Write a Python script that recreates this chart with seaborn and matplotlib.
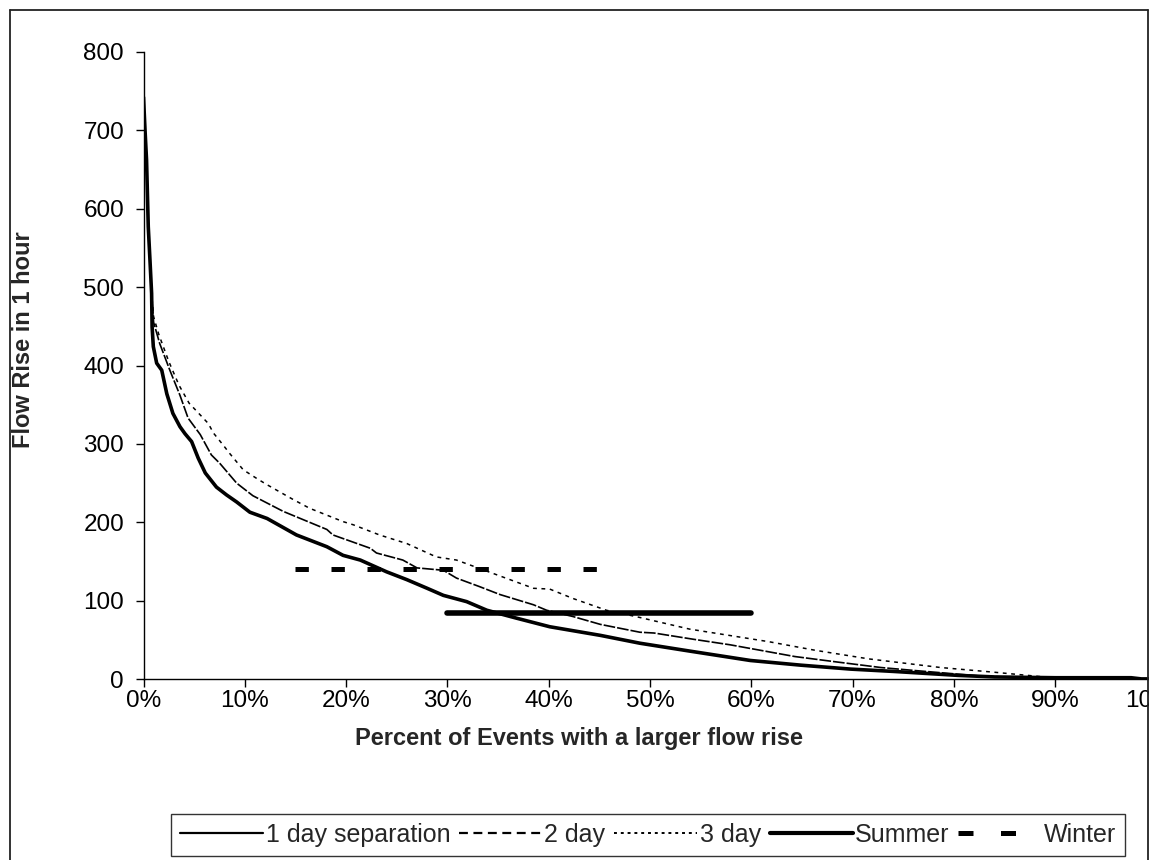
import numpy as np
import pandas as pd
import matplotlib
matplotlib.use("Agg")
import matplotlib.pyplot as plt
from matplotlib.lines import Line2D
from matplotlib.patches import Rectangle
import seaborn as sns

# ---------------- data ----------------
pct_1day = [0, 0.15, 0.3, 0.47, 0.64, 0.8, 0.85, 0.97, 1.3, 1.8, 2.3, 2.9, 3.6, 4.1, 4.75,
            5.4, 6.1, 7.2, 8.2, 9.2, 10.5, 12.2, 15.1, 18.1, 19.7, 21.4, 24.0, 26.0, 28.0,
            29.6, 31.9, 33.9, 36.8, 40.1, 45.1, 49.0, 53.9, 59.9, 64.9, 69.8, 74.1, 80.4,
            84.0, 90.0, 97.5, 98.5, 100]
rise_1day = [742, 700, 662, 577, 534, 492, 449, 424, 403, 394, 364, 339, 322, 313, 303,
             282, 263, 245, 235, 226, 213, 205, 184, 169, 158, 152, 137, 127, 116,
             107, 99, 88, 78, 67, 56, 46, 36, 24, 18, 13, 10, 5,
             3, 2, 2, 0.5, 0.5]

pct_2day = [0, 0.15, 0.3, 0.47, 0.64, 0.8, 1.0, 1.6, 2.6, 3.6, 4.4, 5.6, 6.7, 7.55, 9.2,
            10.8, 13.8, 18.1, 18.7, 22.4, 23.0, 25.6, 27.0, 29.6, 30.9, 33.2, 35.2, 38.5,
            39.8, 42.4, 45.1, 49.0, 50.4, 54.3, 57.9, 64.3, 68.5, 72.8, 76.3, 82.4, 87.7, 98]
rise_2day = [742, 700, 662, 577, 534, 492, 455, 428, 394, 362, 333, 312, 286, 275, 250,
             234, 214, 191, 184, 167, 161, 152, 142, 139, 129, 118, 108, 95,
             88, 80, 70, 60, 59, 51, 44, 29, 22, 15, 11, 4.4, 1.3, 0]

pct_3day = [0, 0.15, 0.3, 0.47, 0.64, 0.8, 1.0, 1.5, 2.5, 3.5, 4.5, 5.6, 6.4, 6.9, 7.9,
            8.5, 9.85, 11.3, 12.2, 14.8, 16.4, 19.7, 20.7, 23.3, 26.0, 28.9, 30.9, 34.5,
            38.5, 40.1, 42.4, 45.7, 48.6, 53.9, 61.7, 66.3, 71.6, 78.7, 84.0, 88.9, 91, 98]
rise_3day = [742, 700, 662, 577, 534, 492, 462, 440, 405, 375, 352, 337, 326, 314, 298,
             288, 267, 255, 248, 229, 218, 201, 197, 184, 173, 156, 152, 135,
             116, 115, 103, 88, 80, 64, 48, 37, 26, 15, 9, 3, 1, 0]

pct_summer = [30, 60]
rise_summer = [85, 85]
pct_winter = [15, 45]
rise_winter = [141, 141]

series_labels = ["1 day separation", "2 day", "3 day", "Summer", "Winter"]
x_ticks = [0, 10, 20, 30, 40, 50, 60, 70, 80, 90, 100]
x_tick_labels = ["0%", "10%", "20%", "30%", "40%", "50%", "60%", "70%", "80%", "90%", "100%"]
y_ticks = [0, 100, 200, 300, 400, 500, 600, 700, 800]
x_title = "Percent of Events with a larger flow rise"
y_title = "Flow Rise in 1 hour"

# ---------------- style ----------------
sns.set_style("white")
plt.rcParams["font.family"] = ["Liberation Sans", "DejaVu Sans"]
plt.rcParams["axes.edgecolor"] = "black"

W, H = 1162, 860
fig = plt.figure(figsize=(W / 100, H / 100), dpi=100)
fig.patch.set_facecolor("white")

ax_l, ax_r, ax_b, ax_t = 143.5, 1156.5, 679.3, 51.7
ax = fig.add_axes([ax_l / W, (H - ax_b) / H, (ax_r - ax_l) / W, (ax_b - ax_t) / H])
ax.set_facecolor("white")

def frame(p, r):
    return pd.DataFrame({"pct": np.asarray(p, float) / 100.0, "rise": np.asarray(r, float)})

common = dict(x="pct", y="rise", ax=ax, estimator=None, sort=False, color="black", legend=False)

sns.lineplot(data=frame(pct_3day, rise_3day), linewidth=1.1,
             linestyle=(0, (2.5, 3.0)), **common)
sns.lineplot(data=frame(pct_2day, rise_2day), linewidth=1.2,
             linestyle=(0, (7, 1.2)), **common)
sns.lineplot(data=frame(pct_1day, rise_1day), linewidth=2.6, **common)
sns.lineplot(data=frame(pct_summer, rise_summer), linewidth=4.0,
             solid_capstyle="round", **common)
sns.lineplot(data=frame(pct_winter, rise_winter), linewidth=3.6,
             linestyle=(0, (2.67, 4.53)), dash_capstyle="butt", **common)

ax.set_xlim(0, 1)
ax.set_ylim(0, 800)
ax.set_xticks(np.array(x_ticks) / 100.0)
ax.set_xticklabels(x_tick_labels)
ax.set_yticks(y_ticks)
ax.set_xlabel("")
ax.set_ylabel("")
for s in ["top", "right"]:
    ax.spines[s].set_visible(False)
for s in ["left", "bottom"]:
    ax.spines[s].set_linewidth(1.0)
    ax.spines[s].set_color("black")
ax.tick_params(axis="both", which="major", direction="out", length=6, width=1,
               color="black", labelsize=17.5, labelcolor="black", left=True, bottom=True)
ax.tick_params(axis="y", pad=8)
ax.tick_params(axis="x", pad=1.5)
ax.grid(False)

# axis titles (centred like the original chart)
fig.text(579 / W, (H - 738) / H, x_title, ha="center", va="center",
         fontsize=17, fontweight="bold")
fig.text(24 / W, (H - 340) / H, y_title, ha="center", va="center",
         rotation=90, fontsize=17, fontweight="bold")

# legend
handles = [
    Line2D([], [], color="black", linewidth=1.6),
    Line2D([], [], color="black", linewidth=1.6, linestyle=(0, (4, 2.5))),
    Line2D([], [], color="black", linewidth=1.4, linestyle=(0, (1.5, 2.0))),
    Line2D([], [], color="black", linewidth=3.0, solid_capstyle="round"),
    Line2D([], [], color="black", linewidth=3.6, linestyle=(0, (3.0, 5.5)),
           dash_capstyle="butt"),
]
leg = fig.legend(handles, series_labels, loc="center", ncol=5,
                 bbox_to_anchor=(648 / W, (H - 835) / H), bbox_transform=fig.transFigure,
                 frameon=True, fancybox=False, shadow=False, fontsize=18,
                 handlelength=3.32, handletextpad=0.1, columnspacing=0.35,
                 borderpad=0.35, borderaxespad=0)
leg.get_frame().set_edgecolor("black")
leg.get_frame().set_linewidth(1.0)

# chart-area crop at the right and outer border
fig.add_artist(Rectangle((1148.5 / W, 0), (W - 1148.5) / W, 1, transform=fig.transFigure,
                         facecolor="white", edgecolor="none", zorder=20))
fig.add_artist(Line2D([9.5 / W, 9.5 / W], [-0.01, (H - 10) / H], transform=fig.transFigure,
                      color="#222222", linewidth=1.3, zorder=21))
fig.add_artist(Line2D([9.5 / W, 1148 / W], [(H - 10) / H, (H - 10) / H],
                      transform=fig.transFigure, color="#222222", linewidth=1.3, zorder=21))
fig.add_artist(Line2D([1148 / W, 1148 / W], [-0.01, (H - 10) / H], transform=fig.transFigure,
                      color="#222222", linewidth=1.3, zorder=21))

fig.savefig("out.png", dpi=100, facecolor="white")
